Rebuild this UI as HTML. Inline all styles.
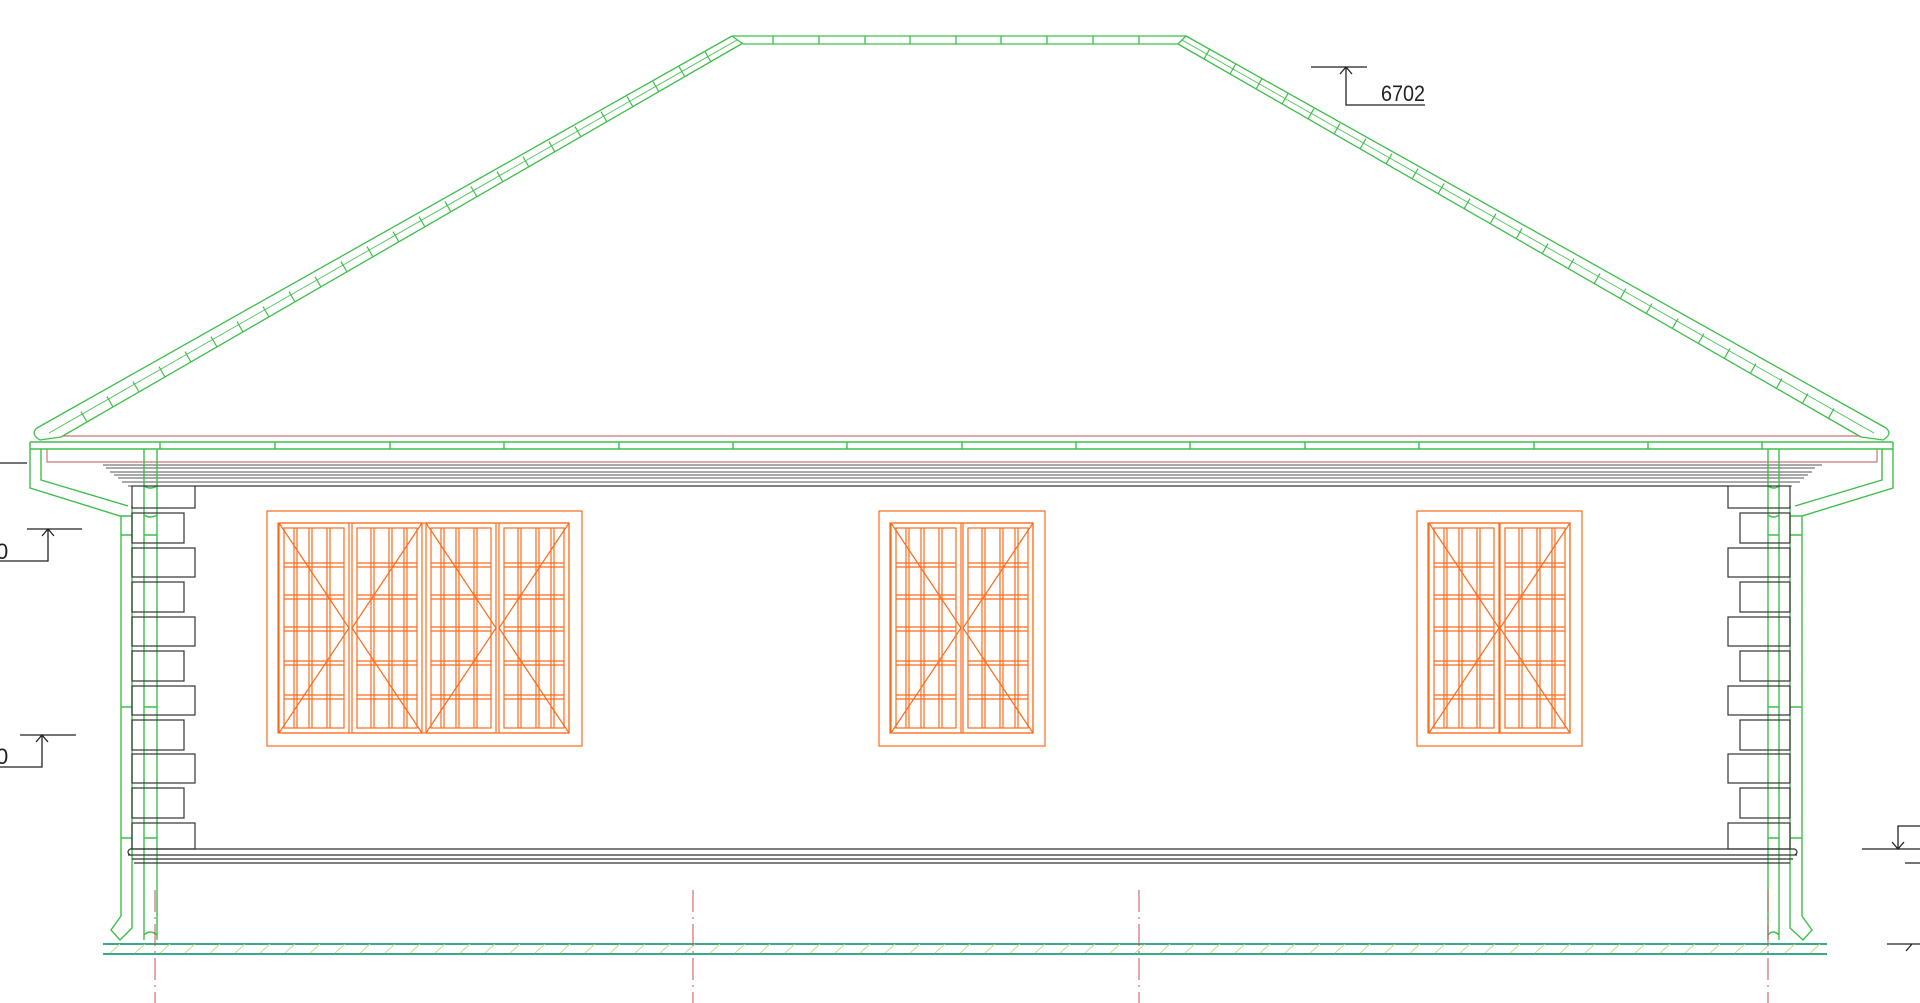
<!DOCTYPE html>
<html><head><meta charset="utf-8"><style>
html,body{margin:0;padding:0;background:#fff;width:1920px;height:1003px;overflow:hidden}
svg{display:block}
text{font-family:"Liberation Sans Narrow","Liberation Sans",sans-serif}
</style></head><body>
<svg width="1920" height="1003" viewBox="0 0 1920 1003" xmlns="http://www.w3.org/2000/svg" fill="none">
<defs>
<g id="sashL" stroke="#ff6a1a" stroke-width="1.2">
  <rect x="0" y="0" width="70" height="210"/>
  <rect x="5" y="5" width="60" height="200"/>
  <path d="M5 40h60M5 44h60M5 72h60M5 76h60M5 104h60M5 108h60M5 138h60M5 142h60M5 172h60M5 176h60"/>
  <path d="M15 5v200M18 5v200M30 5v200M33 5v200M48 5v200M51 5v200"/>
  <path d="M0 0L70 105L0 210"/>
</g>
<g id="sashR" stroke="#ff6a1a" stroke-width="1.2">
  <rect x="0" y="0" width="70" height="210"/>
  <rect x="5" y="5" width="60" height="200"/>
  <path d="M5 40h60M5 44h60M5 72h60M5 76h60M5 104h60M5 108h60M5 138h60M5 142h60M5 172h60M5 176h60"/>
  <path d="M19 5v200M22 5v200M37 5v200M40 5v200M52 5v200M55 5v200"/>
  <path d="M70 0L0 105L70 210"/>
</g>
</defs>

<!-- roof -->
<g stroke="#3dbf4a" stroke-width="1.3">
  <path d="M61 437L743 43"/>
  <path d="M37 428L732 36"/>
  <path d="M49 433L737 40" stroke-width="0.8"/>
  <path d="M37 428Q30 434 40 440L61 437"/>
  <path d="M1178 44L1861 437"/>
  <path d="M1186 36L1886 428"/>
  <path d="M1182 40L1874 433" stroke-width="0.8"/>
  <path d="M1886 428Q1893 434 1883 440L1861 437"/>
  <path d="M732 36L1186 36M743 44L1178 44M732 36L743 44M1186 36L1178 44"/>
  <path d="M773 36v8M819 36v8M865 36v8M910 36v8M956 36v8M1001 36v8M1047 36v8M1093 36v8M1139 36v8"/>
</g>
<g stroke="#3dbf4a" stroke-width="1.2">
<path d="M87 422l-6 -10.4M113 407l-6 -10.4M139 392l-6 -10.4M165 377l-6 -10.4M191 362l-6 -10.4M217 347l-6 -10.4M243 332l-6 -10.4M269 317l-6 -10.4M295 302l-6 -10.4M321 287l-6 -10.4M347 272l-6 -10.4M373 257l-6 -10.4M399 242l-6 -10.4M425 227l-6 -10.4M451 212l-6 -10.4M477 197l-6 -10.4M503 182l-6 -10.4M529 167l-6 -10.4M555 152l-6 -10.4M581 137l-6 -10.4M607 122l-6 -10.4M633 107l-6 -10.4M659 92l-6 -10.4M685 77l-6 -10.4M711 62l-6 -10.4"/>
<path d="M1204 59l6 -10.4M1230 74l6 -10.4M1256 89l6 -10.4M1282 104l6 -10.4M1308 119l6 -10.4M1334 134l6 -10.4M1360 149l6 -10.4M1386 164l6 -10.4M1412 179l6 -10.4M1438 194l6 -10.4M1464 209l6 -10.4M1490 224l6 -10.4M1516 239l6 -10.4M1542 254l6 -10.4M1568 269l6 -10.4M1594 284l6 -10.4M1620 299l6 -10.4M1646 314l6 -10.4M1672 329l6 -10.4M1698 344l6 -10.4M1724 359l6 -10.4M1750 374l6 -10.4M1776 389l6 -10.4M1802 404l6 -10.4M1828 419l6 -10.4"/>
</g>

<!-- red eave lines -->
<g stroke="#c87878" stroke-width="1.2">
  <path d="M62 436H1860"/>
  <path d="M47 449V462H1877V449"/>
</g>

<!-- cornice -->
<g stroke="#555" stroke-width="1.1">
  <path d="M103 465H1822M106 468H1815M110 472H1812M114 475H1808M118 478H1804M122 482H1800M128 486H1792"/>
</g>

<!-- gutter band -->
<g stroke="#3dbf4a" stroke-width="1.4">
  <path d="M30 442H1893M30 449H1893"/>
  <path d="M160 442v7M275 442v7M390 442v7M504 442v7M619 442v7M733 442v7M847 442v7M962 442v7M1076 442v7M1190 442v7M1305 442v7M1419 442v7M1534 442v7M1648 442v7M1762 442v7"/>
  <path d="M30 442V488L120 516H132M41 449V480L128 506"/>
  <path d="M121 516V916M132 506V916M121 535H132M121 707H132M121 838H132"/>
  <path d="M121 916L111 930L120 940L132 928V916"/>
  <path d="M144 449V940M157 449V940M144 486q6 4 13 0M144 515q6 4 13 0M144 535H157M144 707H157M144 838H157M144 935q6 -6 13 0"/>
  <path d="M1893 442V488L1802 516H1790M1882 449V480L1795 506"/>
  <path d="M1802 516V916M1790 506V916M1790 535H1802M1790 707H1802M1790 838H1802"/>
  <path d="M1802 916L1812 930L1803 940L1790 928V916"/>
  <path d="M1768 449V940M1779 449V940M1768 486q6 4 11 0M1768 515q6 4 11 0M1768 535H1779M1768 707H1779M1768 838H1779M1768 935q5 -6 11 0"/>
</g>

<!-- wall & quoins -->
<g stroke="#333" stroke-width="1.2">
  <path d="M195 486H1728"/>
  <rect x="132" y="486" width="63" height="22"/>
  <rect x="132" y="513" width="52" height="30"/>
  <rect x="132" y="548" width="63" height="29"/>
  <rect x="132" y="582" width="52" height="30"/>
  <rect x="132" y="617" width="63" height="29"/>
  <rect x="132" y="651" width="52" height="30"/>
  <rect x="132" y="686" width="63" height="29"/>
  <rect x="132" y="720" width="52" height="30"/>
  <rect x="132" y="754" width="63" height="29"/>
  <rect x="132" y="788" width="52" height="30"/>
  <rect x="132" y="823" width="63" height="26"/>
  <rect x="1728" y="486" width="62" height="22"/>
  <rect x="1740" y="513" width="50" height="30"/>
  <rect x="1728" y="548" width="62" height="29"/>
  <rect x="1740" y="582" width="50" height="30"/>
  <rect x="1728" y="617" width="62" height="29"/>
  <rect x="1740" y="651" width="50" height="30"/>
  <rect x="1728" y="686" width="62" height="29"/>
  <rect x="1740" y="720" width="50" height="30"/>
  <rect x="1728" y="754" width="62" height="29"/>
  <rect x="1740" y="788" width="50" height="30"/>
  <rect x="1728" y="823" width="62" height="26"/>
  <path d="M130 849H1795M128 855H1797M132 859H1793M134 863H1790"/>
  <path d="M130 849q-4 3 0 6M1795 849q4 3 0 6"/>
</g>

<!-- windows -->
<g stroke="#ff6a1a" stroke-width="1.2">
  <rect x="267" y="511" width="315" height="235"/>
  <rect x="278" y="523" width="291" height="210"/>
  <rect x="879" y="511" width="166" height="235"/>
  <rect x="890" y="523" width="143" height="210"/>
  <rect x="1417" y="511" width="165" height="235"/>
  <rect x="1428" y="523" width="142" height="210"/>
</g>
<use href="#sashL" x="279" y="523"/>
<use href="#sashR" x="352" y="523"/>
<use href="#sashL" x="426" y="523"/>
<use href="#sashR" x="499" y="523"/>
<use href="#sashL" x="891" y="523"/>
<use href="#sashR" x="963" y="523"/>
<use href="#sashL" x="1429" y="523"/>
<use href="#sashR" x="1500" y="523"/>

<!-- ground -->
<g stroke="#3aa88a" stroke-width="2">
  <path d="M103 944H1827M103 954H1827"/>
</g>
<g stroke="#c8d88a" stroke-width="1">
  <path d="M110 953l10 -9M135 953l10 -9M160 953l10 -9M185 953l10 -9M210 953l10 -9M235 953l10 -9M260 953l10 -9M285 953l10 -9M310 953l10 -9M335 953l10 -9M360 953l10 -9M385 953l10 -9M410 953l10 -9M435 953l10 -9M460 953l10 -9M485 953l10 -9M510 953l10 -9M535 953l10 -9M560 953l10 -9M585 953l10 -9M610 953l10 -9M635 953l10 -9M660 953l10 -9M685 953l10 -9M710 953l10 -9M735 953l10 -9M760 953l10 -9M785 953l10 -9M810 953l10 -9M835 953l10 -9M860 953l10 -9M885 953l10 -9M910 953l10 -9M935 953l10 -9M960 953l10 -9M985 953l10 -9M1010 953l10 -9M1035 953l10 -9M1060 953l10 -9M1085 953l10 -9M1110 953l10 -9M1135 953l10 -9M1160 953l10 -9M1185 953l10 -9M1210 953l10 -9M1235 953l10 -9M1260 953l10 -9M1285 953l10 -9M1310 953l10 -9M1335 953l10 -9M1360 953l10 -9M1385 953l10 -9M1410 953l10 -9M1435 953l10 -9M1460 953l10 -9M1485 953l10 -9M1510 953l10 -9M1535 953l10 -9M1560 953l10 -9M1585 953l10 -9M1610 953l10 -9M1635 953l10 -9M1660 953l10 -9M1685 953l10 -9M1710 953l10 -9M1735 953l10 -9M1760 953l10 -9M1785 953l10 -9M1810 953l10 -9"/>
</g>

<!-- center lines -->
<g stroke="#c85050" stroke-width="1" stroke-dasharray="22 5 2 5">
  <path d="M155 890V1003M693 890V1003M1139 890V1003M1768 890V1003"/>
</g>

<!-- dimensions -->
<g stroke="#222" stroke-width="1.3">
  <path d="M1311 67H1367M1346 67V105H1425M1340 74L1346 67L1352 74"/>
  <path d="M0 463H27"/>
  <path d="M27 529H82M48 529V561H0M42 536L48 529L54 536"/>
  <path d="M20 735H76M42 735V767H0M36 742L42 735L48 742"/>
  <path d="M1862 849H1920M1898 849V826H1920M1892 842L1898 849L1904 842M1905 863H1920"/>
  <path d="M1887 944H1920M1912 944l-6 7"/>
</g>
<g fill="#222" font-size="22">
  <text x="1381" y="101" textLength="44" lengthAdjust="spacingAndGlyphs">6702</text>
  <text x="-4" y="559">0</text>
  <text x="-4" y="764">0</text>
</g>
</svg>
</body></html>
